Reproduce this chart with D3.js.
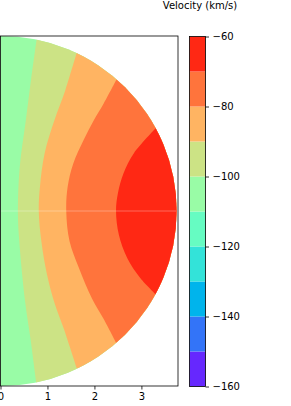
<!DOCTYPE html>
<html>
<head>
<meta charset="utf-8">
<script src="https://cdn.jsdelivr.net/npm/d3@7"></script>
<style>
body { margin: 0; background: #fff; }
svg text { font-family: "DejaVu Sans", sans-serif; font-size: 10px; fill: #000; }
</style>
</head>
<body>
<div class="graph"></div>
<script>
"use strict";

// contour levels (km/s) and colorbar ticks
var levels = [-160, -150, -140, -130, -120, -110, -100, -90, -80, -70, -60];
var cbarTicks = [-60, -80, -100, -120, -140, -160];
var xTicks = [0, 1, 2, 3];

// contour lines, [x, y], top to bottom
var line100 = [[0.77, 3.68], [0.65, 2.81], [0.54, 1.95], [0.41, 0.95], [0.37, 0], [0.40, -0.65],
    [0.52, -1.91], [0.64, -2.75], [0.76, -3.68]];
var line90 = [[1.62, 3.38], [1.38, 2.59], [1.15, 1.95], [0.94, 1.24], [0.84, 0.52], [0.815, 0],
    [0.87, -0.65], [0.99, -1.36], [1.15, -1.97], [1.35, -2.53], [1.62, -3.36]];
var line80 = [[2.47, 2.82], [2.20, 2.31], [1.99, 1.95], [1.77, 1.52], [1.55, 1.02], [1.43, 0.52],
    [1.40, 0], [1.47, -0.65], [1.67, -1.22], [1.95, -1.88], [2.20, -2.32], [2.46, -2.82]];
var line70 = [[3.30, 1.77], [2.84, 1.24], [2.62, 0.81], [2.50, 0.38], [2.46, 0], [2.52, -0.51],
    [2.70, -1.01], [2.98, -1.44], [3.30, -1.78]];

var radius = 3.75;

// region right of each line gets the band above it
var regions = [
    {pts: line100, band: -95},
    {pts: line90, band: -85},
    {pts: line80, band: -75},
    {pts: line70, band: -65}
];

var width = 291, height = 406;

var color = d3.scaleThreshold()
    .domain(levels.slice(1, -1))
    .range(["#6628fe", "#3374f8", "#00b4ec", "#33e3d9", "#66fcc2",
            "#99fca6", "#cce385", "#ffb462", "#ff743c", "#ff2814"]);

var x = d3.scaleLinear().domain([0, 3.79]).range([0.5, 178.5]);
var y = d3.scaleLinear().domain([-3.75, 3.75]).range([386, 36]);

var svg = d3.select('.graph').append('svg')
    .attr('width', width)
    .attr('height', height)
    .style('display', 'block');

svg.append('clipPath')
    .attr('id', 'disc')
    .append('ellipse')
    .attr('cx', x(0))
    .attr('cy', y(0))
    .attr('rx', x(radius) - x(0))
    .attr('ry', y(0) - y(radius));

var plot = svg.append('g').attr('clip-path', 'url(#disc)');

// lowest band fills whole disc
plot.append('rect')
    .attr('x', x(0))
    .attr('y', y(radius))
    .attr('width', x(radius) - x(0))
    .attr('height', y(-radius) - y(radius))
    .attr('fill', color(-105));

var line = d3.line()
    .curve(d3.curveCatmullRom)
    .x(function(d) { return x(d[0]) })
    .y(function(d) { return y(d[1]) });

regions.forEach(function(r) {
    plot.append('path')
        .attr('d', line(r.pts) + 'L' + x(6) + ',' + y(-6) + 'L' + x(6) + ',' + y(6) + 'Z')
        .attr('fill', color(r.band));
});

// faint seam along the equator
plot.append('line')
    .attr('x1', x(0)).attr('x2', x(radius))
    .attr('y1', y(0)).attr('y2', y(0))
    .attr('stroke', '#fff')
    .attr('stroke-opacity', 0.3)
    .attr('stroke-width', 1);

// axes frame
svg.append('rect')
    .attr('x', 0.5)
    .attr('y', 36)
    .attr('width', 178 - 0.5)
    .attr('height', 350)
    .attr('fill', 'none')
    .attr('stroke', '#000')
    .attr('stroke-width', 0.8);

var xAxis = d3.axisBottom(x)
    .tickValues(xTicks)
    .tickFormat(d3.format('d'))
    .tickSize(3.5)
    .tickPadding(3.5);

var axisX = svg.append('g')
    .attr('transform', 'translate(0,386)')
    .call(xAxis);
axisX.select('.domain').remove();
axisX.selectAll('line').attr('stroke-width', 0.8);

// colorbar
var cy = d3.scaleLinear().domain([-160, -60]).range([386.5, 36.5]);
var cbar = svg.append('g');

cbar.selectAll('rect.band')
    .data(d3.pairs(levels))
    .enter().append('rect')
    .attr('class', 'band')
    .attr('x', 189.5)
    .attr('width', 16)
    .attr('y', function(d) { return cy(d[1]) })
    .attr('height', function(d) { return cy(d[0]) - cy(d[1]) })
    .attr('fill', function(d) { return color((d[0] + d[1]) / 2) });

cbar.append('rect')
    .attr('x', 189.5)
    .attr('y', cy(-60))
    .attr('width', 16)
    .attr('height', cy(-160) - cy(-60))
    .attr('fill', 'none')
    .attr('stroke', '#000')
    .attr('stroke-width', 0.8);

var cAxis = d3.axisRight(cy)
    .tickValues(cbarTicks)
    .tickSize(3.5)
    .tickPadding(3.5);

var axisC = svg.append('g')
    .attr('transform', 'translate(205.5,0)')
    .call(cAxis);
axisC.select('.domain').remove();
axisC.selectAll('line').attr('stroke-width', 0.8);

svg.append('text')
    .attr('x', 200)
    .attr('y', 9)
    .attr('text-anchor', 'middle')
    .text('Velocity (km/s)');
</script>
</body>
</html>
